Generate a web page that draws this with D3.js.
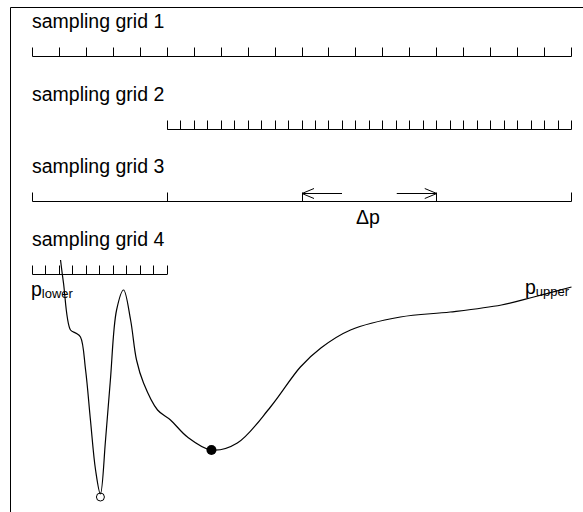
<!DOCTYPE html>
<html>
<head>
<meta charset="utf-8">
<script src="https://cdn.jsdelivr.net/npm/d3@7"></script>
<style>
body{margin:0;background:#fff}
text{font-family:"Liberation Sans",Arial,sans-serif;fill:#000}
</style>
</head>
<body>
<svg id="chart" width="583" height="512"></svg>
<script>
// grid labels, start/end (in p units, 0..20) and number of intervals
var gridNames=["sampling grid 1","sampling grid 2","sampling grid 3","sampling grid 4"];
var gridStart=[0,5,0,0];
var gridEnd=[20,20,20,5];
var gridSteps=[20,30,4,10];

// curve samples: p and objective value
var curveP=[1.04,1.15,1.41,1.6,1.78,1.97,2.15,2.34,2.52,2.71,2.89,3.12,3.38,3.64,3.86,4.12,4.64,5.12,5.75,6.64,7.6,8.83,9.94,10.7,11.8,13.65,15.5,17.4,18.6,20.0];
var curveF=[252,229,182,179,175,142,92,42,18,72,132,202,222,192,152,129,102,92,75,62,69,105,145,164,182,195,200,207,215,225];
var globalMin={p:2.52,f:18};
var localMin={p:6.64,f:62};

var svg=d3.select("#chart");
var x=d3.scaleLinear().domain([0,20]).range([32.5,571.5]);
var y=d3.scaleLinear().domain([0,250]).range([512,262]);
var baseY=[56.5,129.5,201.5,274.5];

svg.append("path")
    .attr("d","M10.5,512V7.5H583")
    .attr("fill","none").attr("stroke","#000");

gridNames.forEach(function(name,i)
    {
        svg.append("text")
            .attr("x",32).attr("y",baseY[i]-29)
            .attr("font-size",19.5)
            .text(name);
        svg.append("line")
            .attr("x1",x(gridStart[i])).attr("x2",x(gridEnd[i]))
            .attr("y1",baseY[i]).attr("y2",baseY[i])
            .attr("stroke","#000");
        var ticks=d3.range(gridSteps[i]+1).map(function(k)
            {
                return gridStart[i]+k*(gridEnd[i]-gridStart[i])/gridSteps[i];
            });
        svg.selectAll(null).data(ticks).enter().append("line")
            .attr("x1",function(d){return Math.round(x(d)-0.5)+0.5;})
            .attr("x2",function(d){return Math.round(x(d)-0.5)+0.5;})
            .attr("y1",baseY[i]).attr("y2",baseY[i]-9)
            .attr("stroke","#000");
    });

// delta p arrows between grid-3 ticks 2 and 3
var ay=193.5;
var a1=x(10),a2=x(15);
svg.append("path")
    .attr("d","M"+a1+","+ay+"h40M"+(a1+12)+","+(ay-5)+"L"+a1+","+ay+"L"+(a1+12)+","+(ay+5))
    .attr("fill","none").attr("stroke","#000");
svg.append("path")
    .attr("d","M"+a2+","+ay+"h-40M"+(a2-12)+","+(ay-5)+"L"+a2+","+ay+"L"+(a2-12)+","+(ay+5))
    .attr("fill","none").attr("stroke","#000");
svg.append("text").attr("x",356).attr("y",224).attr("font-size",19.5)
    .text("\u0394p");

var line=d3.line()
    .x(function(d){return x(d[0]);})
    .y(function(d){return y(d[1]);})
    .curve(d3.curveCatmullRom);
svg.append("path")
    .datum(d3.zip(curveP,curveF))
    .attr("d",line)
    .attr("fill","none").attr("stroke","#000").attr("stroke-width",1.2);

svg.append("circle").attr("cx",x(globalMin.p)).attr("cy",y(globalMin.f)+3)
    .attr("r",4).attr("fill","none").attr("stroke","#000");
svg.append("circle").attr("cx",x(localMin.p)).attr("cy",y(localMin.f))
    .attr("r",5).attr("fill","#000");

var lo=svg.append("text").attr("x",31).attr("y",296).attr("font-size",19.5);
lo.append("tspan").text("p");
lo.append("tspan").attr("font-size",13).attr("dy",2).text("lower");
var up=svg.append("text").attr("x",525).attr("y",294).attr("font-size",19.5);
up.append("tspan").text("p");
up.append("tspan").attr("font-size",13).attr("dy",2).text("upper");
</script>
</body>
</html>
